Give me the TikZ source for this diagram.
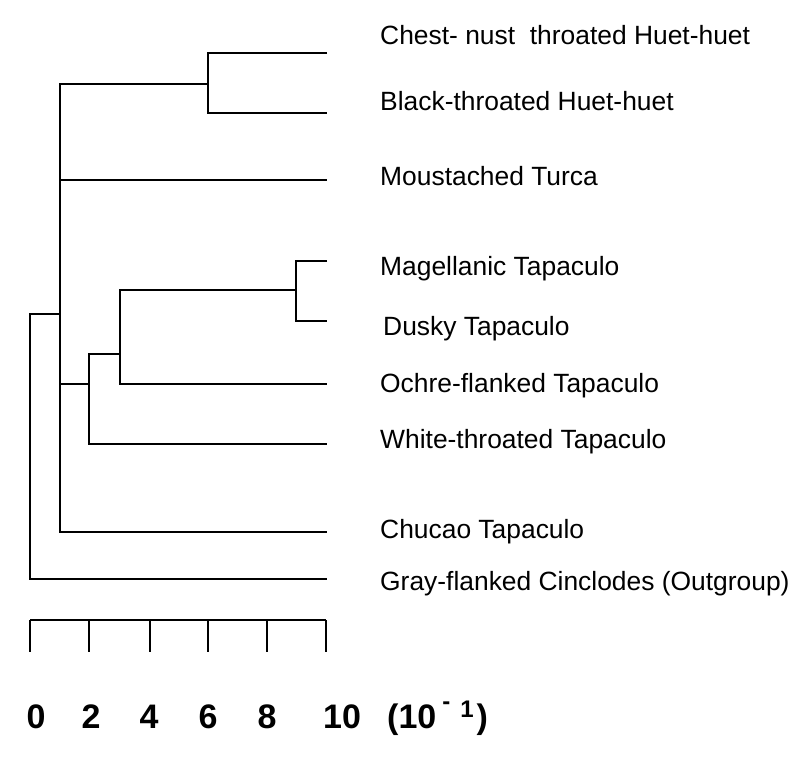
\documentclass[tikz,border=0pt]{standalone}
\usepackage{fontspec}
\setmainfont{Liberation Sans}
\begin{document}
\begin{tikzpicture}[x=1pt,y=-1pt,
  branch/.style={draw=black,line width=2pt},
  leaflabel/.style={anchor=base west,inner sep=0pt,font=\fontsize{26.4}{30}\selectfont},
  scalelabel/.style={anchor=base,inner sep=0pt,font=\fontsize{34}{38}\selectfont\bfseries}]
\useasboundingbox[fill=white] (0,0) rectangle (800,768);
% leaf tips
\coordinate (tChest) at (327,53);
\coordinate (tBlack) at (327,113);
\coordinate (tMous) at (327,180);
\coordinate (tMag) at (327,261);
\coordinate (tDusky) at (327,321);
\coordinate (tOchre) at (327,384);
\coordinate (tWhite) at (327,444);
\coordinate (tChucao) at (327,532);
\coordinate (tGray) at (327,579);
% internal nodes
\coordinate (nHuet) at (208,84);
\coordinate (mTop) at (60,84);
\coordinate (aMous) at (60,180);
\coordinate (aTap) at (60,384);
\coordinate (aRoot) at (60,314);
\coordinate (mBot) at (60,532);
\coordinate (nMD) at (296,290);
\coordinate (nMDO) at (120,354);
\coordinate (nMDOW) at (89,384);
\coordinate (nRoot) at (30,314);
% tree
\draw[branch] (tChest) -| (nHuet) |- (tBlack);
\draw[branch] (nHuet) -- (mTop) -- (mBot) -- (tChucao);
\draw[branch] (aMous) -- (tMous);
\draw[branch] (tMag) -| (nMD) |- (tDusky);
\draw[branch] (nMD) -| (nMDO) |- (tOchre);
\draw[branch] (nMDO) -| (nMDOW) |- (tWhite);
\draw[branch] (nMDOW) -- (aTap);
\draw[branch] (aRoot) -- (nRoot) |- (tGray);
% labels
\node[leaflabel] (lChest) at (380,45) {Chest- nust\ \ throated Huet-huet};
\node[leaflabel] (lBlack) at (380,110) {Black-throated Huet-huet};
\node[leaflabel] (lMous) at (380,185) {Moustached Turca};
\node[leaflabel] (lMag) at (380,275) {Magellanic Tapaculo};
\node[leaflabel] (lDusky) at (383,335) {Dusky Tapaculo};
\node[leaflabel] (lOchre) at (380,392) {Ochre-flanked Tapaculo};
\node[leaflabel] (lWhite) at (380,448) {White-throated Tapaculo};
\node[leaflabel] (lChucao) at (380,538) {Chucao Tapaculo};
\node[leaflabel] (lGray) at (380,590) {Gray-flanked Cinclodes (Outgroup)};
% scale bar
\coordinate (s0) at (30,620);
\coordinate (s2) at (89,620);
\coordinate (s4) at (150,620);
\coordinate (s6) at (208,620);
\coordinate (s8) at (267,620);
\coordinate (s10) at (326,620);
\draw[branch] (s0) -- (s10);
\foreach \s in {s0,s2,s4,s6,s8,s10} \draw[branch] (\s) -- ++(0,32);
\node[scalelabel] (k0) at (36,728) {0};
\node[scalelabel] (k2) at (91,728) {2};
\node[scalelabel] (k4) at (149,728) {4};
\node[scalelabel] (k6) at (208,728) {6};
\node[scalelabel] (k8) at (267,728) {8};
\node[scalelabel,anchor=base west] (k10) at (323,728) {10};
\node[scalelabel,anchor=base west] (kunit) at (387,728) {(10\hspace{6pt}\raisebox{19pt}{\fontsize{24}{24}\selectfont -}\hspace{10pt}\raisebox{11pt}{\fontsize{24}{24}\selectfont 1}\hspace{3pt})};
\end{tikzpicture}
\end{document}
